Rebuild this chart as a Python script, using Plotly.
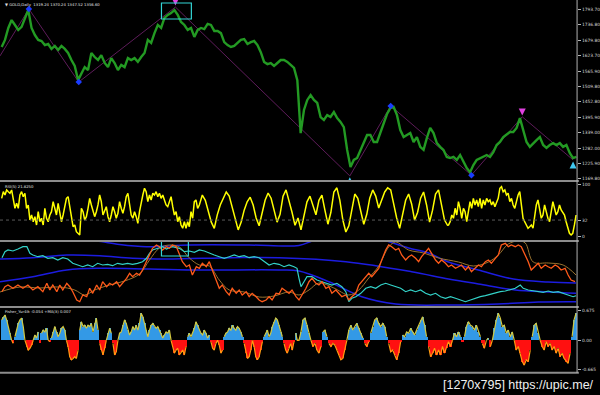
import numpy as np
import plotly.graph_objects as go

# ---------------- data ----------------
# main price (daily closes), bars evenly spaced
price_vals = [1655,1681,1725,1754,1736,1718,1729,1762,1791,1725,1699,1681,1677,1662,1666,1648,1659,1644,1659,1648,
              1633,1607,1585,1533,1559,1581,1570,1633,1618,1607,1625,1596,1581,1614,1596,1570,1589,1581,1614,1607,
              1614,1600,1618,1633,1681,1670,1706,1736,1725,1762,1773,1780,1791,1773,1747,1736,1718,1725,1692,1718,
              1725,1721,1740,1736,1714,1714,1706,1673,1662,1655,1659,1670,1681,1684,1666,1673,1677,1662,1636,1600,
              1592,1596,1585,1596,1607,1607,1600,1589,1578,1533,1338,1423,1460,1478,1460,1449,1397,1386,1404,1397,
              1415,1393,1379,1360,1276,1213,1239,1246,1276,1305,1331,1331,1305,1305,1342,1371,1408,1430,1434,1404,
              1349,1323,1331,1338,1305,1323,1287,1276,1320,1357,1338,1301,1287,1276,1250,1246,1250,1239,1257,1231,
              1209,1194,1220,1239,1246,1250,1257,1250,1268,1294,1305,1323,1331,1342,1342,1357,1393,1349,1305,1287,
              1301,1312,1323,1294,1283,1294,1301,1294,1301,1287,1294,1265,1246,1250]
price_bar = np.linspace(1.67, 578.3, len(price_vals))

zigzag_bar = [0, 29, 79, 176, 351, 392, 473, 524, 575]
zigzag_price = [1622, 1795, 1526, 1802, 1180, 1438, 1183, 1398, 1239]

blue_mark_bar = [29, 79, 392, 473]
blue_mark_price = [1795, 1526, 1438, 1183]
magenta_mark_bar = [176, 524]
magenta_mark_price = [1808, 1403]
cyan_mark_bar = [351, 575]
cyan_mark_price = [1175, 1233]

price_ticks = [1793.70, 1736.80, 1679.80, 1623.70, 1565.90, 1509.80,
               1452.80, 1395.90, 1339.00, 1282.00, 1225.90, 1169.80]

# RSI(5)
rsi_seg1 = [73.8,86.5,80.2,89.8,86.5,83.5,89.8,67.3,54.6,64.2,54.6,80.2,86.5,76.9,83.5,54.6,61,32.1,41.7,28.8,
            38.5,22.5,48.1,28.8,35.4,22.5,54.6,35.4,28.8,41.7,48.1,67.3,54.6,41.7,64.2,48.1,28.8,41.7,57.7,73.8,
            76.9,61,38.5,19.2,22.5,9.6,6.5,3.3,54.6,48.1,32.1,38.5,54.6,73.8,61,48.1,38.5,48.1,61,80.2,
            67.3,41.7,51.3,57.7,38.5,28.8,41.7,57.7,48.1,35.4,45,67.3,54.6,45,57.7,76.9,83.5,61,41.7,35.4,
            48.1,38.5,25.8,48.1,67.3,80.2,93.1,86.5,67.3,80.2,70.6,83.5,80.2,86.5,76.9,83.5,73.8,80.2,70.6,61,
            57.7,67.3,76.9,57.7,41.7,48.1,28.8,38.5,22.5,16.2,28.8,16.2,28.8,19.2,48.1,35.4,67.3,70.6,54.6]
rsi_seg2 = [61,80,70,47,28,16,42,61,74,86,78,55,32,13,28,51,67,76,61,36,
            21,43,70,84,74,51,28,43,78,90,70,47,22,36,13,42,67,78,61,42,
            70,80,51,24,47,86,94,70,32,9,21,55,82,74,47,24,43,74,90,78,
            55,70,86,94,90,63,36,16,40,70,82,63,32,47,74,86,61,28,51,82,
            90,61,32,22]
rsi_seg3 = [22.5,28.8,41.7,35.4,54.6,41.7,67.3,54.6,35.4,54.6,48.1,28.8,48.1,67.3,54.6,73.8,61,70.6,57.7,73.8,
            54.6,70.6,61,73.8,67.3,70.6,61,67.3,57.7,67.3,73.8,93.1,96.2,86.5,89.8,80.2,83.5,67.3,73.8,61,
            54.6,67.3,80.2,86.5,61,35.4,28.8,22.5,16.2,19.2,22.5,16.2,35.4,61,70.6,54.6,35.4,41.7,61,48.1,
            35.4,28.8,48.1,67.3,54.6,41.7,48.1,61,51.3,45,41.7,28.8,16.2,6.5,3.3,6.5,22.5,41.7]
rsi_level = 32
rsi_ticks = [100, 32, 0]

# middle indicator panel (unlabelled scale)
upper_bar = [0,50,80,97,120,147,190,250,300,313,330,360,388,410,430,450,480,515,550,578]
upper_val = [75,70,67,66,62.5,60.3,62,62,61.5,66,72,74,66,59,54,45,37,28,25,24]
mid_bar = [0,33,67,100,133,167,233,280,347,413,450,480,517,550,578]
mid_val = [48,49.3,52,51.3,48.7,48,49.3,49.3,45.3,35.3,28,23,17,15,13.7]
low_bar = [0,33,67,100,150,200,280,300,330,363,397,450,500,540,578]
low_val = [25.3,30.3,37,38.7,38,37,37,36,25.3,10.3,3,2,3,5,5.3]

cyan_bar = [2,5,8,13,18,23,27,30,33,38,43,48,53,58,63,68,73,78,83,88,93,98,103,108,113,118,123,128,133,138,
            143,147,150,153,157,160,163,167,170,173,177,180,185,190,195,200,205,210,215,220,225,230,235,240,245,
            250,255,260,265,270,275,280,285,290,295,298,300,302,305,308,313,318,323,328,333,338,343,347,350,353,
            357,362,367,372,377,382,387,392,397,402,407,412,417,422,427,432,437,442,447,452,457,462,467,472,477,
            482,487,492,497,502,507,512,517,522,525,530,535,540,545,550,555,560,565,570,575,578]
cyan_val = [49.3,55.3,57,56,58,60.3,60.3,53.7,52,50.3,51.3,48.7,49.3,47,49.3,48,43.7,42,40.3,42,
            40.3,43.7,42,42.7,41.3,43.7,42.7,43.7,42.7,43.7,45.3,48.7,53.7,57,58.7,59.3,60.3,58,59.3,60.3,
            59.3,58.7,55.3,56,54.7,57,56,53.7,52,50.3,48.7,50.3,52,50.3,51.3,49.3,50.3,49.3,45.3,42,
            43.7,42.7,40.3,42,40.3,38.7,28.7,20.3,25.3,30.3,30.3,27,25.3,23.7,22,23.7,20.3,15.3,5.3,8.7,
            10.3,13.7,18.7,20.3,18.7,22,23.7,22,20.3,18.7,15.3,17,15.3,17,13.7,12,13.7,10.3,8.7,10.3,
            8.7,7,5.3,7,8.7,10.3,11.3,12.7,13.7,15.3,16,17,18.7,22,18.7,17,16,15.3,14.7,16,
            14.7,15.3,13.7,12,10.3,11.3]

orange_bar = [2,5,8,13,18,23,28,33,38,43,47,50,53,57,60,63,67,70,73,77,80,83,87,90,93,97,100,103,107,110,
              113,117,120,123,127,130,133,137,140,143,147,150,153,157,160,163,167,170,173,177,180,183,187,190,193,
              197,200,203,207,210,213,217,220,223,227,230,233,237,240,243,247,250,253,257,260,263,267,270,273,277,
              280,283,287,290,293,297,300,303,307,310,313,317,320,323,327,330,333,337,340,343,347,350,353,357,360,
              363,367,370,373,377,380,383,387,390,393,397,400,403,407,410,413,417,420,423,427,430,433,437,440,443,
              447,450,453,457,460,463,467,470,473,477,480,483,487,490,493,497,500,503,507,510,513,517,520,523,527,
              530,533,537,540,543,547,550,553,557,560,563,567,570,573,577]
orange_val = [15.3,20.3,22,18.7,22,18.7,22,17,20.3,15.3,23.7,17,22,15.3,22,17,23.7,20.3,15.3,7,
              5.3,12,10.3,18.7,13.7,22,17,25.3,20.3,23.7,22,25.3,20.3,23.7,28.7,33.7,30.3,33.7,32,37,
              45.3,52,58.7,62,60.3,57,60.3,58.7,62,60.3,52,45.3,40.3,42,32,40.3,38.7,43.7,40.3,45.3,
              37,25.3,18.7,22,15.3,12,18.7,13.7,17,12,15.3,10.3,13.7,10.3,7,5.3,7,10.3,7,13.7,
              13,18.7,15.3,13.7,17,10.3,7,12,18.7,25.3,28.7,23.7,22,25.3,18.7,20.3,13.7,17,13.7,10.3,
              12,7,10.3,13.7,22,25.3,30.3,33.7,30.3,35.3,38.7,47,57,62,60.3,57,58.7,52,47,50.3,
              52,48.7,45.3,50.3,55.3,58.7,53.7,47,43.7,47,43.7,40.3,42,38.7,40.3,42,37,40.3,35.3,38.7,
              42,40.3,45.3,47,43.7,48.7,52,62,63.7,60.3,62,60.3,62,60.3,52,45.3,37,40.3,43.7,38.7,
              42,40.3,38.7,42,40.3,37,38.7,32,27,25.3]

brown_bar = [0,20,40,60,75,85,95,110,125,140,150,160,170,180,190,200,210,220,230,245,260,275,290,300,310,320,
             335,350,360,370,380,390,397,410,425,440,460,475,490,500,510,520,527,535,550,565,578]
brown_val = [15,20,19,20,17,12,17,22,26,33,47,59,62,60,49,42,41,27,17,15,10,11,15,12,17,24,
             19,12,17,29,41,60,65,57,54,49,45,41,45,52,63,66,64,45,44,42,32]

# Fisher_Yur4ik
fisher_seg1 = [0.46,0.53,0.57,0.46,0.31,0.16,0,-0.07,0.08,0.23,0.38,0.46,0.50,0.31,0,-0.14,-0.22,-0.18,-0.11,0,
               0.12,0.05,0.19,-0.07,0.16,0.23,0.19,0.27,0,-0.03,0.05,0.19,0.31,0.19,0.08,0.16,0.27,0.31,0.23,0,
               -0.14,-0.37,-0.44,-0.41,-0.37,-0.41,-0.22,0.23,0.42,0.31,0.34,0.27,0.34,0.31,0.38,0.19,0.38,0.50,0.23,-0.07,
               -0.22,-0.33,-0.18,0,0.16,0.27,0.16,-0.07,-0.33,-0.26,0,0.16,0.19,0.34,0.46,0.38,0.23,0.12,0.19,0.31,
               0.23,0.34,0.23,0.38,0.61,0.53,0.38,0.23,0.08,0.23,0.34,0.38,0.31,0.27,0.31,0.23,0.16,0.05,0.12,0.19,
               0.16,0.23,0,-0.14,-0.29,-0.22,-0.18,-0.33,-0.26,-0.22,-0.33,-0.14,0.08,0.16,0.08,0.16,0.27,0.42,0.34,0.23,
               0.16,0.12,0.23,0.16,0.05,0.12,-0.03,-0.18,-0.22,-0.07,0,-0.11,-0.29,-0.22,0.08,0.16,0.19,0.27,0.23,0.34,
               0.27,0.23,0.31,0.27,0.19,0.08,-0.07,-0.29,-0.41,-0.37,-0.22,0,-0.14,-0.37,-0.44,-0.37,-0.22,-0.03,0.08,0.16,
               0.23,0.08,0.16,0.31,0.42,0.50,0.46,0.34,0.19,0.08,-0.07,-0.22,-0.29,-0.18,-0.07,-0.22,-0.03,0.16,0]
fisher_seg2 = [0,0.19,0.46,0.5,0.34,0.16,0,-0.14,-0.07,-0.22,-0.29,-0.14,0.19,0.23,0.08,-0.07,-0.14,-0.07,-0.11,-0.22,
               -0.33,-0.44,-0.41,-0.22,0,0.23,0.34,0.23,0.31,0.38,0.27,0.16,0.05,-0.07,-0.14,-0.03,0.16,0.31,0.46,0.5,
               0.38,0.31,0.38,0.31,0.08,-0.07,-0.26,-0.22,-0.33,-0.44,-0.29,-0.03,0.12,0.08,0.19,0.16,0.27,0.19,0.12,0.23,
               0.34,0.46,0.53,0.34,0.08,-0.14,-0.37,-0.29,-0.18,-0.33,-0.22,-0.33,-0.14,-0.29,-0.18,-0.03,-0.14,0,0.16,0.08,
               0.19,0.08,-0.03,0.08,0.31,0.42,0.34,0.31,0.23,0.34,0.19,0.08,-0.07,-0.18,0,0.05,-0.14,0,0.27,0.46,
               0.61,0.5,0.31,0.34,0.16,0.23,0.08,0.19,0,-0.22,-0.14,-0.29,-0.48,-0.56,-0.44,-0.48,-0.22,0.08,0.34,0.38,
               0.16,0,-0.14,-0.22,-0.03,-0.14,-0.07,-0.22,-0.14,-0.29,-0.18,-0.37,-0.29,-0.41,-0.48,-0.52,-0.29,0.08,0.46,0.61]
fisher_ticks = [0.675, 0.0, -0.665]
fisher_ticktext = ["0.675", "0.00", "-0.665"]

# ---------------- layout geometry ----------------
W, H = 600, 395
XR = 579 / W
def py(p):  # pixel row -> paper fraction
    return 1 - p / H

dom_main = [py(181), 1]
dom_rsi = [py(241), py(181)]
dom_mid = [py(307), py(241)]
dom_fis = [py(372.7), py(307)]

fig = go.Figure()

# main panel
fig.add_trace(go.Scatter(x=zigzag_bar, y=zigzag_price, mode="lines",
                         line=dict(color="#5e1c5a", width=1), xaxis="x", yaxis="y", hoverinfo="skip"))
fig.add_trace(go.Scatter(x=price_bar, y=price_vals, mode="lines",
                         line=dict(color="#239a23", width=2.4), xaxis="x", yaxis="y"))
fig.add_trace(go.Scatter(x=blue_mark_bar, y=blue_mark_price, mode="markers",
                         marker=dict(symbol="diamond", size=5, color="#1a3cff"), xaxis="x", yaxis="y"))
fig.add_trace(go.Scatter(x=magenta_mark_bar, y=magenta_mark_price, mode="markers",
                         marker=dict(symbol="arrow-down", size=7, color="#e040e0"), xaxis="x", yaxis="y"))
fig.add_trace(go.Scatter(x=cyan_mark_bar, y=cyan_mark_price, mode="markers",
                         marker=dict(symbol="arrow-up", size=7, color="#40c8f0"), xaxis="x", yaxis="y"))

# RSI panel
rsi_bar = np.concatenate([np.linspace(1.67, 198.3, len(rsi_seg1)),
                          200 + 3 * np.arange(len(rsi_seg2)),
                          np.linspace(450, 578, len(rsi_seg3))])
rsi_vals = rsi_seg1 + rsi_seg2 + rsi_seg3
fig.add_trace(go.Scatter(x=rsi_bar, y=rsi_vals, mode="lines",
                         line=dict(color="#ffff00", width=1.5), xaxis="x2", yaxis="y2"))

# middle panel
for bx, bv in [(upper_bar, upper_val), (mid_bar, mid_val), (low_bar, low_val)]:
    fig.add_trace(go.Scatter(x=bx, y=bv, mode="lines", line=dict(color="#1c1ce0", width=1.5, shape="spline"),
                             xaxis="x3", yaxis="y3"))
fig.add_trace(go.Scatter(x=brown_bar, y=brown_val, mode="lines",
                         line=dict(color="#9a7430", width=1, shape="spline"), xaxis="x3", yaxis="y3"))
fig.add_trace(go.Scatter(x=cyan_bar, y=cyan_val, mode="lines",
                         line=dict(color="#33d2c8", width=1.2), xaxis="x3", yaxis="y3"))
fig.add_trace(go.Scatter(x=orange_bar, y=orange_val, mode="lines",
                         line=dict(color="#ff5a1a", width=1.3), xaxis="x3", yaxis="y3"))

# Fisher panel
fis_bar = np.concatenate([np.linspace(1.67, 298.3, len(fisher_seg1)),
                          np.linspace(300, 578, len(fisher_seg2))])
fis_vals = np.array(fisher_seg1 + fisher_seg2)
fig.add_trace(go.Bar(x=fis_bar, y=fis_vals, width=2.1,
                     marker=dict(color=np.where(fis_vals >= 0, "#3399e6", "#ff1010"), line=dict(width=0)),
                     xaxis="x4", yaxis="y4"))
pos = np.where(fis_vals >= 0, fis_vals, np.nan)
neg = np.where(fis_vals <= 0, fis_vals, np.nan)
fig.add_trace(go.Scatter(x=fis_bar, y=pos, mode="lines", line=dict(color="#d2c840", width=1.2),
                         xaxis="x4", yaxis="y4"))
fig.add_trace(go.Scatter(x=fis_bar, y=neg, mode="lines", line=dict(color="#ff9a10", width=1.2),
                         xaxis="x4", yaxis="y4"))

# ---------------- axes ----------------
xcommon = dict(range=[0, 579], domain=[0, XR], showticklabels=False, showgrid=False,
               zeroline=False, showline=False, ticks="")
ycommon = dict(side="right", showgrid=False, zeroline=False, showline=False,
               ticks="outside", ticklen=3, tickcolor="#b4b4b4", tickwidth=1,
               tickfont=dict(size=4.4, color="#d8d8d8", family="DejaVu Sans"))

fig.update_layout(
    width=W, height=H, margin=dict(l=0, r=0, t=0, b=0),
    paper_bgcolor="black", plot_bgcolor="black", showlegend=False,
    barmode="overlay", bargap=0,
    xaxis=dict(**xcommon, anchor="y"),
    xaxis2=dict(**xcommon, anchor="y2"),
    xaxis3=dict(**xcommon, anchor="y3"),
    xaxis4=dict(**xcommon, anchor="y4"),
    yaxis=dict(**ycommon, domain=dom_main, anchor="x", range=[1161.4, 1828],
               tickvals=price_ticks, ticktext=[f"{v:.2f}" for v in price_ticks]),
    yaxis2=dict(**ycommon, domain=dom_rsi, anchor="x2", range=[-8.3, 107.1],
                tickvals=rsi_ticks, ticktext=[str(v) for v in rsi_ticks]),
    yaxis3=dict(domain=dom_mid, anchor="x3", range=[0, 66], showticklabels=False,
                showgrid=False, zeroline=False, showline=False),
    yaxis4=dict(**ycommon, domain=dom_fis, anchor="x4", range=[-0.73, 0.75],
                tickvals=fisher_ticks, ticktext=fisher_ticktext),
)

shapes = []
# RSI level line
shapes.append(dict(type="line", xref="x2", yref="y2", x0=0, x1=579, y0=rsi_level, y1=rsi_level,
                   line=dict(color="#5a5a5a", width=1, dash="dot")))
# highlight boxes
shapes.append(dict(type="rect", xref="x", yref="y", x0=162, x1=192, y0=1758, y1=1817,
                   line=dict(color="#33d6d6", width=1.2)))
shapes.append(dict(type="rect", xref="x3", yref="y3", x0=162, x1=189, y0=51, y1=66,
                   line=dict(color="#33d6d6", width=1.2)))
# panel separators
for p in [181, 241, 307, 372.7]:
    shapes.append(dict(type="line", xref="paper", yref="paper", x0=0, x1=XR + 0.003, y0=py(p), y1=py(p),
                       line=dict(color="#8c8c8c", width=2)))
# right scale border
shapes.append(dict(type="line", xref="paper", yref="paper", x0=XR, x1=XR, y0=py(373), y1=1,
                   line=dict(color="#b0b0b0", width=1)))
fig.update_layout(shapes=shapes)

small = dict(size=3.8, color="#e0e0e0", family="DejaVu Sans")
fig.add_annotation(xref="paper", yref="paper", x=0.005, y=py(4), xanchor="left", yanchor="middle",
                   text="▼ GOLD,Daily  1319.24 1370.24 1347.52 1356.60", showarrow=False, font=small)
fig.add_annotation(xref="paper", yref="paper", x=0.005, y=py(186), xanchor="left", yanchor="middle",
                   text="RSI(5) 21.8250", showarrow=False, font=small)
fig.add_annotation(xref="paper", yref="paper", x=0.005, y=py(311.5), xanchor="left", yanchor="middle",
                   text="Fisher_Yur4ik -0.054 +MA(3) 0.007", showarrow=False, font=small)
fig.add_annotation(xref="paper", yref="paper", x=0.997, y=py(385), xanchor="right", yanchor="middle",
                   text="[1270x795] https://upic.me/", showarrow=False,
                   font=dict(size=12.5, color="#f0f0f0", family="Liberation Sans"))

fig.write_html("out.html")
